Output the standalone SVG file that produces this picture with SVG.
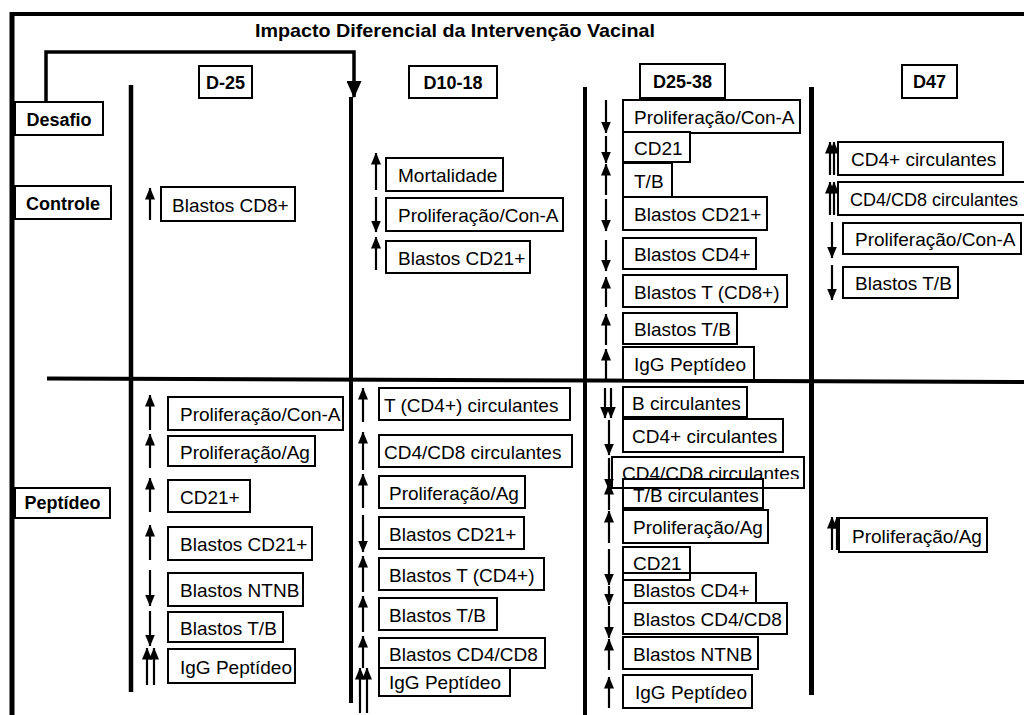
<svg xmlns="http://www.w3.org/2000/svg" width="1024" height="715" viewBox="0 0 1024 715">
  <defs>
    <style>
      .box { fill: #fff; stroke: #000; stroke-width: 2; }
      .open { fill: none; stroke: #000; stroke-width: 2; }
      .t { font-family: "Liberation Sans", Arial, Helvetica, sans-serif; font-size: 19px; fill: #000; }
      .b { font-weight: bold; }
      .hdr { font-weight: bold; text-anchor: middle; font-size: 18px; }
      .rule { stroke: #000; fill: none; }
      .sh { stroke: #000; stroke-width: 2.2; fill: none; marker-end: url(#ah); }
    </style>
    <marker id="ah" viewBox="0 0 12 10" refX="11.5" refY="5" markerWidth="12" markerHeight="10" markerUnits="userSpaceOnUse" orient="auto">
      <path d="M0,0 L12,5 L0,10 Z" fill="#000"/>
    </marker>
    <marker id="ahBig" viewBox="0 0 17 15" refX="16" refY="7.5" markerWidth="17" markerHeight="15" markerUnits="userSpaceOnUse" orient="auto">
      <path d="M0,0 L17,7.5 L0,15 Z" fill="#000"/>
    </marker>
    <clipPath id="clipTop"><rect x="600" y="440" width="220" height="39"/></clipPath>
    <clipPath id="clipBot"><rect x="600" y="489" width="220" height="30"/></clipPath>
  </defs>

  <rect width="1024" height="715" fill="#fff"/>

  <!-- frame, column rules and row divider -->
  <g id="rules">
    <line class="rule" x1="10" y1="14" x2="1024" y2="14" stroke-width="4"/>
    <line class="rule" x1="12" y1="12" x2="12" y2="715" stroke-width="5"/>
    <line class="rule" x1="131" y1="85" x2="131" y2="692" stroke-width="4.5"/>
    <line class="rule" x1="351" y1="97" x2="351" y2="703" stroke-width="4"/>
    <line class="rule" x1="585" y1="87" x2="585" y2="715" stroke-width="4"/>
    <line class="rule" x1="811.5" y1="87" x2="811.5" y2="695" stroke-width="5"/>
    <line class="rule" x1="47" y1="378.5" x2="1024" y2="382" stroke-width="4"/>
  </g>

  <text class="t b" x="255" y="37" textLength="400" lengthAdjust="spacingAndGlyphs">Impacto Diferencial da Intervenção Vacinal</text>

  <!-- challenge bracket -->
  <g id="connectors">
    <path d="M46,103 V52 H354 V97" fill="none" stroke="#000" stroke-width="3.5" marker-end="url(#ahBig)"/>
  </g>

  <!-- column headers -->
  <g id="hdr-d25"><rect class="box" x="199" y="66" width="53" height="32"/><text class="t hdr" x="225.5" y="88.5">D-25</text></g>
  <g id="hdr-d10-18"><rect class="box" x="409" y="66" width="88" height="32"/><text class="t hdr" x="453" y="88.5">D10-18</text></g>
  <g id="hdr-d25-38"><rect class="box" x="640" y="64" width="85" height="34"/><text class="t hdr" x="682.5" y="87.5">D25-38</text></g>
  <g id="hdr-d47"><rect class="box" x="902" y="65" width="55" height="33"/><text class="t hdr" x="929.5" y="88">D47</text></g>

  <!-- row labels -->
  <g id="row-desafio"><rect class="box" x="15" y="102" width="88" height="33"/><text class="t hdr" x="59" y="125.5">Desafio</text></g>
  <g id="row-controle"><rect class="box" x="15" y="186" width="96" height="33"/><text class="t hdr" x="63" y="209.5">Controle</text></g>
  <g id="row-peptideo"><rect class="box" x="15" y="488" width="95" height="30"/><text class="t hdr" x="62.5" y="509">Peptídeo</text></g>

  <!-- Controle / D-25 -->
  <g id="c1-1"><line class="sh" x1="150" y1="220" x2="150" y2="188"/><rect class="box" x="161" y="187" width="134" height="34"/><text class="t" x="172" y="211.5">Blastos CD8+</text></g>

  <!-- Controle / D10-18 -->
  <g id="c2-1"><line class="sh" x1="376" y1="190" x2="376" y2="153"/><rect class="box" x="386" y="158" width="117" height="33"/><text class="t" x="398" y="182">Mortalidade</text></g>
  <g id="c2-2"><line class="sh" x1="376" y1="197" x2="376" y2="232"/><rect class="box" x="386" y="198" width="177" height="33"/><text class="t" x="398" y="222">Proliferação/Con-A</text></g>
  <g id="c2-3"><line class="sh" x1="376" y1="270" x2="376" y2="237"/><rect class="box" x="386" y="241" width="144" height="32"/><text class="t" x="398" y="264.5">Blastos CD21+</text></g>

  <!-- Controle / D25-38 -->
  <g id="c3-1"><line class="sh" x1="606" y1="100" x2="606" y2="133"/><rect class="box" x="623" y="100" width="177" height="33"/><text class="t" x="634" y="124">Proliferação/Con-A</text></g>
  <g id="c3-2"><line class="sh" x1="606" y1="136" x2="606" y2="163"/><rect class="box" x="623" y="132" width="67" height="30"/><text class="t" x="634" y="154.5">CD21</text></g>
  <g id="c3-3"><line class="sh" x1="606" y1="195" x2="606" y2="164"/><rect class="box" x="623" y="163" width="49" height="34"/><text class="t" x="634" y="187.5">T/B</text></g>
  <g id="c3-4"><line class="sh" x1="606" y1="199" x2="606" y2="231"/><rect class="box" x="623" y="197" width="144" height="33"/><text class="t" x="634" y="221">Blastos CD21+</text></g>
  <g id="c3-5"><line class="sh" x1="606" y1="240" x2="606" y2="271"/><rect class="box" x="623" y="238" width="133" height="31"/><text class="t" x="634" y="261">Blastos CD4+</text></g>
  <g id="c3-6"><line class="sh" x1="606" y1="307" x2="606" y2="277"/><rect class="box" x="623" y="275" width="164" height="32"/><text class="t" x="634" y="298.5">Blastos T (CD8+)</text></g>
  <g id="c3-7"><line class="sh" x1="606" y1="345" x2="606" y2="314"/><rect class="box" x="623" y="313" width="114" height="31"/><text class="t" x="634" y="336">Blastos T/B</text></g>
  <g id="c3-8"><line class="sh" x1="606" y1="380" x2="606" y2="349"/><rect class="box" x="623" y="347" width="131" height="33"/><text class="t" x="634" y="371">IgG Peptídeo</text></g>

  <!-- Controle / D47 -->
  <g id="c4-1"><line class="sh" x1="830" y1="175" x2="830" y2="142"/><line class="sh" x1="834" y1="175" x2="834" y2="142"/><rect class="box" x="838" y="142" width="165" height="33"/><text class="t" x="851" y="166">CD4+ circulantes</text></g>
  <g id="c4-2"><line class="sh" x1="830" y1="215" x2="830" y2="182"/><line class="sh" x1="834" y1="215" x2="834" y2="182"/><rect class="box" x="838" y="182" width="190" height="33"/><text class="t" x="850" y="206" textLength="168" lengthAdjust="spacingAndGlyphs">CD4/CD8 circulantes</text></g>
  <g id="c4-3"><line class="sh" x1="832" y1="222" x2="832" y2="258"/><rect class="box" x="843" y="223" width="178" height="31"/><text class="t" x="855" y="246">Proliferação/Con-A</text></g>
  <g id="c4-4"><line class="sh" x1="832" y1="265" x2="832" y2="300"/><rect class="box" x="843" y="267" width="115" height="31"/><text class="t" x="855" y="290">Blastos T/B</text></g>

  <!-- Peptídeo / D-25 -->
  <g id="p1-1"><line class="sh" x1="150" y1="430" x2="150" y2="395"/><rect class="box" x="168" y="397" width="175" height="33"/><text class="t" x="180" y="421">Proliferação/Con-A</text></g>
  <g id="p1-2"><line class="sh" x1="150" y1="468" x2="150" y2="434"/><rect class="box" x="168" y="436" width="147" height="30"/><text class="t" x="180" y="458.5">Proliferação/Ag</text></g>
  <g id="p1-3"><line class="sh" x1="150" y1="512" x2="150" y2="478"/><rect class="box" x="168" y="480" width="82" height="32"/><text class="t" x="180" y="503.5">CD21+</text></g>
  <g id="p1-4"><line class="sh" x1="150" y1="560" x2="150" y2="525"/><rect class="box" x="168" y="527" width="144" height="33"/><text class="t" x="180" y="551">Blastos CD21+</text></g>
  <g id="p1-5"><line class="sh" x1="150" y1="570" x2="150" y2="606"/><rect class="box" x="168" y="573" width="135" height="33"/><text class="t" x="180" y="597">Blastos NTNB</text></g>
  <g id="p1-6"><line class="sh" x1="150" y1="611" x2="150" y2="646"/><rect class="box" x="168" y="612" width="115" height="30"/><text class="t" x="180" y="634.5">Blastos T/B</text></g>
  <g id="p1-7"><line class="sh" x1="147" y1="685" x2="147" y2="648"/><line class="sh" x1="154" y1="685" x2="154" y2="648"/><rect class="box" x="168" y="649" width="127" height="34"/><text class="t" x="180" y="673.5">IgG Peptídeo</text></g>

  <!-- Peptídeo / D10-18 -->
  <g id="p2-1"><line class="sh" x1="363" y1="422" x2="363" y2="388"/><rect class="box" x="379" y="388" width="191" height="32"/><text class="t" x="384" y="411.5">T (CD4+) circulantes</text></g>
  <g id="p2-2"><line class="sh" x1="363" y1="470" x2="363" y2="432"/><rect class="box" x="379" y="435" width="193" height="32"/><text class="t" x="384" y="458.5">CD4/CD8 circulantes</text></g>
  <g id="p2-3"><line class="sh" x1="363" y1="508" x2="363" y2="474"/><rect class="box" x="379" y="476" width="146" height="32"/><text class="t" x="389" y="499.5">Proliferação/Ag</text></g>
  <g id="p2-4"><line class="sh" x1="363" y1="515" x2="363" y2="552"/><rect class="box" x="379" y="517" width="145" height="32"/><text class="t" x="389" y="540.5">Blastos CD21+</text></g>
  <g id="p2-5"><line class="sh" x1="363" y1="592" x2="363" y2="556"/><rect class="box" x="379" y="558" width="165" height="32"/><text class="t" x="389" y="581.5">Blastos T (CD4+)</text></g>
  <g id="p2-6"><line class="sh" x1="363" y1="632" x2="363" y2="596"/><rect class="box" x="379" y="598" width="118" height="32"/><text class="t" x="389" y="621.5">Blastos T/B</text></g>
  <g id="p2-7"><line class="sh" x1="363" y1="668" x2="363" y2="636"/><rect class="box" x="379" y="638" width="166" height="30"/><text class="t" x="389" y="660.5">Blastos CD4/CD8</text></g>
  <g id="p2-8"><line class="sh" x1="360" y1="713" x2="360" y2="668"/><line class="sh" x1="367" y1="713" x2="367" y2="668"/><rect class="box" x="379" y="668" width="131" height="28"/><text class="t" x="389" y="688.5">IgG Peptídeo</text></g>

  <!-- Peptídeo / D25-38 -->
  <g id="p3-1"><line class="sh" x1="605" y1="388" x2="605" y2="418"/><line class="sh" x1="611" y1="388" x2="611" y2="418"/><rect class="box" x="623" y="387" width="124" height="30"/><text class="t" x="632" y="409.5">B circulantes</text></g>
  <g id="p3-2"><line class="sh" x1="609" y1="420" x2="609" y2="455"/><rect class="box" x="623" y="419" width="160" height="33"/><text class="t" x="632" y="443">CD4+ circulantes</text></g>
  <g id="p3-3"><line class="sh" x1="609" y1="458" x2="609" y2="490"/><rect class="open" x="612" y="457" width="192" height="31"/><text class="t" x="622" y="480" clip-path="url(#clipTop)">CD4/CD8 circulantes</text></g>
  <g id="p3-4"><line class="sh" x1="609" y1="510" x2="609" y2="483"/><rect class="open" x="623" y="479" width="140" height="29"/><text class="t" x="633" y="502" clip-path="url(#clipBot)">T/B circulantes</text></g>
  <g id="p3-5"><line class="sh" x1="609" y1="543" x2="609" y2="511"/><rect class="box" x="623" y="510" width="145" height="33"/><text class="t" x="633" y="534">Proliferação/Ag</text></g>
  <g id="p3-6"><line class="sh" x1="609" y1="549" x2="609" y2="585"/><rect class="open" x="623" y="547" width="67" height="33"/><text class="t" x="633" y="570">CD21</text></g>
  <g id="p3-7"><line class="sh" x1="609" y1="586" x2="609" y2="605"/><rect class="open" x="623" y="573" width="133" height="30"/><text class="t" x="633" y="597">Blastos CD4+</text></g>
  <g id="p3-8"><line class="sh" x1="609" y1="606" x2="609" y2="638"/><rect class="box" x="623" y="603" width="164" height="31"/><text class="t" x="633" y="626">Blastos CD4/CD8</text></g>
  <g id="p3-9"><line class="sh" x1="609" y1="670" x2="609" y2="639"/><rect class="box" x="623" y="637" width="135" height="32"/><text class="t" x="633" y="660.5">Blastos NTNB</text></g>
  <g id="p3-10"><line class="sh" x1="609" y1="708" x2="609" y2="677"/><rect class="box" x="623" y="675" width="129" height="33"/><text class="t" x="635" y="699">IgG Peptídeo</text></g>

  <!-- Peptídeo / D47 -->
  <g id="p4-1"><line class="sh" x1="832" y1="550" x2="832" y2="517"/><line class="sh" x1="837" y1="550" x2="837" y2="517"/><rect class="box" x="839" y="518" width="148" height="34"/><text class="t" x="852" y="542.5">Proliferação/Ag</text></g>
</svg>
